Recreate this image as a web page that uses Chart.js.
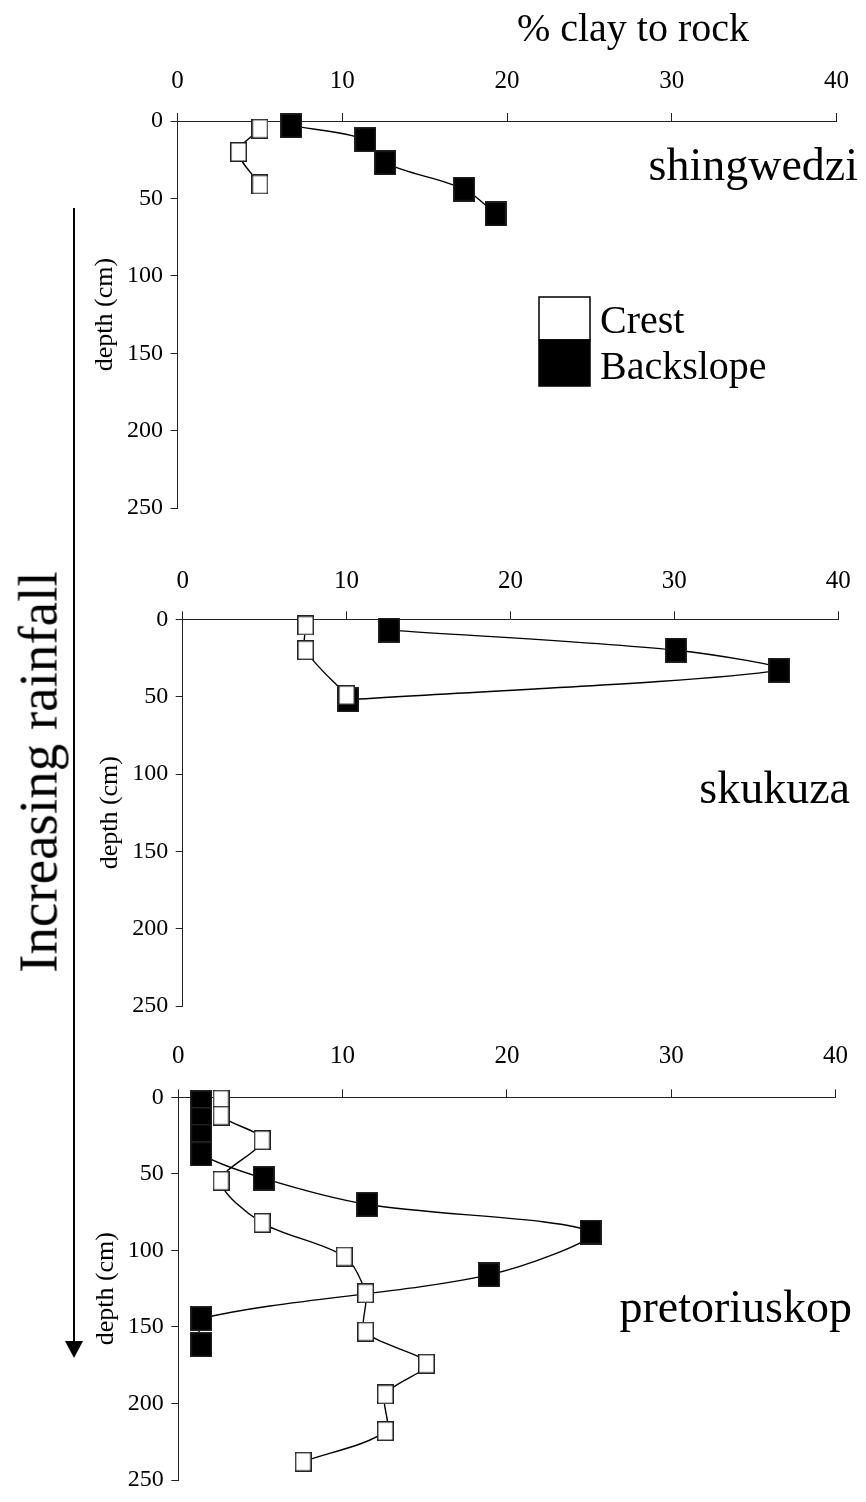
<!DOCTYPE html>
<html lang="en">
<head>
  <meta charset="UTF-8">
  <title>% clay to rock</title>
  <script src="https://cdn.jsdelivr.net/npm/chart.js"></script>
  <style>
    body {
      margin: 0;
      background: #fff;
      font-family: 'Liberation Serif', 'Times New Roman', serif;
    }

    #page {
      position: relative;
      width: 866px;
      height: 1502px;
      overflow: hidden;
    }

    #page canvas {
      position: absolute;
      left: 0;
    }

    .note {
      position: absolute;
      color: #000;
      white-space: nowrap;
      line-height: 1;
    }

    #main-title {
      left: 633px;
      top: 28px;
      font-size: 40px;
      transform: translate(-50%, -50%);
    }

    #rain-label {
      left: 38px;
      top: 772px;
      font-size: 55px;
      transform: translate(-50%, -50%) rotate(-90deg);
    }

    #rain-shaft {
      position: absolute;
      left: 73px;
      top: 208px;
      width: 2px;
      height: 1136px;
      background: #000;
    }

    #rain-head {
      position: absolute;
      left: 65px;
      top: 1341px;
      width: 0;
      height: 0;
      border-left: 9px solid transparent;
      border-right: 9px solid transparent;
      border-top: 17px solid #000;
    }
  </style>
</head>
<body>
  <div id="page">
    <canvas id="panel-0" width="866" height="530" style="top:0px"></canvas>
    <canvas id="panel-1" width="866" height="488" style="top:540px"></canvas>
    <canvas id="panel-2" width="866" height="482" style="top:1020px"></canvas>

    <div class="note" id="main-title">% clay to rock</div>
    <div class="note" id="rain-label">Increasing rainfall</div>
    <div id="rain-shaft"></div>
    <div id="rain-head"></div>
  </div>

  <script>
    // ---- data ----
    const seriesNames = ['Crest', 'Backslope'];
    const siteNames = ['shingwedzi', 'skukuza', 'pretoriuskop'];

    const clayTicks = [0, 10, 20, 30, 40];
    const depthTicks = [0, 50, 100, 150, 200, 250];

    // shingwedzi
    const shingwedziCrestClay = [5.0, 3.7, 5.0];
    const shingwedziCrestDepth = [5, 20, 41];
    const shingwedziBackClay = [6.9, 11.4, 12.6, 17.4, 19.3];
    const shingwedziBackDepth = [3, 12, 27, 44, 60];

    // skukuza
    const skukuzaCrestClay = [7.5, 7.5, 10.0];
    const skukuzaCrestDepth = [4, 20, 49];
    const skukuzaBackClay = [12.6, 30.1, 36.4, 10.1];
    const skukuzaBackDepth = [7, 20, 33, 52];

    // pretoriuskop
    const pretoriuskopCrestClay = [2.6, 2.6, 5.1, 2.6, 5.1, 10.1, 11.4, 11.4, 15.1, 12.6, 12.6, 7.6];
    const pretoriuskopCrestDepth = [1.5, 12, 28, 54.5, 82, 104, 128, 153, 174, 194, 218, 238];
    const pretoriuskopBackClay = [1.4, 1.4, 1.4, 1.4, 5.2, 11.5, 25.1, 18.9, 1.4, 1.4];
    const pretoriuskopBackDepth = [3.5, 14.5, 25.5, 37, 53, 70, 88, 116, 144.5, 161.5];

    const FONT = "'Liberation Serif', 'Times New Roman', serif";

    // where each panel sits on the page (canvas coordinates)
    const layouts = [
      { plotLeft: 177.6, padRight: 22, axisTop: 121, padBottom: 20, tickPad: 17, titlePad: 90, name: { x: 858, y: 180 } },
      { plotLeft: 182.7, padRight: 18, axisTop: 79.3, padBottom: 20, tickPad: 15.3, titlePad: 95, name: { x: 850, y: 263 } },
      { plotLeft: 178.3, padRight: 23, axisTop: 77.3, padBottom: 15.7, tickPad: 18, titlePad: 91, name: { x: 852, y: 302 } }
    ];

    function toPoints(xs, ys) {
      return xs.map((x, i) => ({ x: x, y: ys[i] }));
    }

    // Excel style square markers (a bit taller than wide)
    function marker(w, h, fill) {
      const c = document.createElement('canvas');
      c.width = w;
      c.height = h;
      const g = c.getContext('2d');
      g.fillStyle = fill;
      g.fillRect(0, 0, w, h);
      g.strokeStyle = '#222';
      g.lineWidth = 1.5;
      g.strokeRect(0.75, 0.75, w - 1.5, h - 1.5);
      return c;
    }

    const crestMarker = marker(17, 20, '#ffffff');
    const backMarker = marker(22, 25, '#000000');

    const siteNamePlugin = {
      id: 'siteName',
      afterDraw(chart, args, opts) {
        if (!opts.text) return;
        const ctx = chart.ctx;
        ctx.save();
        ctx.font = opts.size + 'px ' + FONT;
        ctx.fillStyle = '#000';
        ctx.textAlign = 'right';
        ctx.textBaseline = 'alphabetic';
        ctx.fillText(opts.text, opts.x, opts.y);
        ctx.restore();
      }
    };

    // stacked legend boxes like the original
    const boxLegendPlugin = {
      id: 'boxLegend',
      afterDraw(chart, args, opts) {
        if (!opts.display) return;
        const ctx = chart.ctx;
        const heights = [43, 46];
        let top = opts.y;
        ctx.save();
        ctx.font = opts.size + 'px ' + FONT;
        ctx.textAlign = 'left';
        ctx.textBaseline = 'alphabetic';
        chart.data.datasets.forEach((ds, i) => {
          const h = heights[i];
          ctx.fillStyle = ds.legendFill;
          ctx.fillRect(opts.x, top, opts.w, h);
          ctx.strokeStyle = '#000';
          ctx.lineWidth = 1.5;
          ctx.strokeRect(opts.x, top, opts.w, h);
          ctx.fillStyle = '#000';
          ctx.fillText(ds.label, opts.x + opts.w + 10, top + h - 7);
          top += h;
        });
        ctx.restore();
      }
    };

    function makePanel(idx, crestPts, backPts) {
      const L = layouts[idx];
      const ctx = document.getElementById('panel-' + idx).getContext('2d');
      return new Chart(ctx, {
        type: 'line',
        data: {
          datasets: [
            {
              label: seriesNames[0],
              data: crestPts,
              legendFill: '#ffffff',
              borderColor: '#000',
              borderWidth: 1.4,
              tension: 0.3,
              pointStyle: crestMarker,
              pointRadius: 10,
              pointHoverRadius: 10,
              clip: false
            },
            {
              label: seriesNames[1],
              data: backPts,
              legendFill: '#000000',
              borderColor: '#000',
              borderWidth: 1.4,
              tension: 0.3,
              pointStyle: backMarker,
              pointRadius: 12,
              pointHoverRadius: 12,
              clip: false
            }
          ]
        },
        options: {
          responsive: false,
          animation: false,
          events: [],
          layout: { padding: { left: 0, top: 0, right: L.padRight, bottom: L.padBottom } },
          plugins: {
            legend: { display: false },
            tooltip: { enabled: false },
            siteName: { text: siteNames[idx], size: 46, x: L.name.x, y: L.name.y },
            boxLegend: { display: idx === 0, x: 539, y: 297, w: 51, size: 40 }
          },
          scales: {
            x: {
              type: 'linear',
              position: 'top',
              min: 0,
              max: 40,
              afterBuildTicks: s => { s.ticks = clayTicks.map(v => ({ value: v })); },
              afterFit: s => { s.height = L.axisTop; },
              grid: { drawOnChartArea: false, tickLength: 8, color: '#222' },
              border: { color: '#222', width: 1 },
              ticks: { color: '#000', font: { family: FONT, size: 25 }, padding: L.tickPad, maxRotation: 0, autoSkip: false }
            },
            y: {
              type: 'linear',
              reverse: true,
              min: 0,
              max: 250,
              afterBuildTicks: s => { s.ticks = depthTicks.map(v => ({ value: v })); },
              afterFit: s => { s.width = L.plotLeft; },
              title: {
                display: true,
                text: 'depth (cm)',
                color: '#000',
                font: { family: FONT, size: 26 },
                padding: { top: L.titlePad, bottom: 0 }
              },
              grid: { drawOnChartArea: false, tickLength: 7, color: '#222' },
              border: { color: '#222', width: 1 },
              ticks: { color: '#000', font: { family: FONT, size: 24 }, padding: 7.5, autoSkip: false }
            }
          }
        },
        plugins: [siteNamePlugin, boxLegendPlugin]
      });
    }

    makePanel(0, toPoints(shingwedziCrestClay, shingwedziCrestDepth), toPoints(shingwedziBackClay, shingwedziBackDepth));
    makePanel(1, toPoints(skukuzaCrestClay, skukuzaCrestDepth), toPoints(skukuzaBackClay, skukuzaBackDepth));
    makePanel(2, toPoints(pretoriuskopCrestClay, pretoriuskopCrestDepth), toPoints(pretoriuskopBackClay, pretoriuskopBackDepth));
  </script>
</body>
</html>
